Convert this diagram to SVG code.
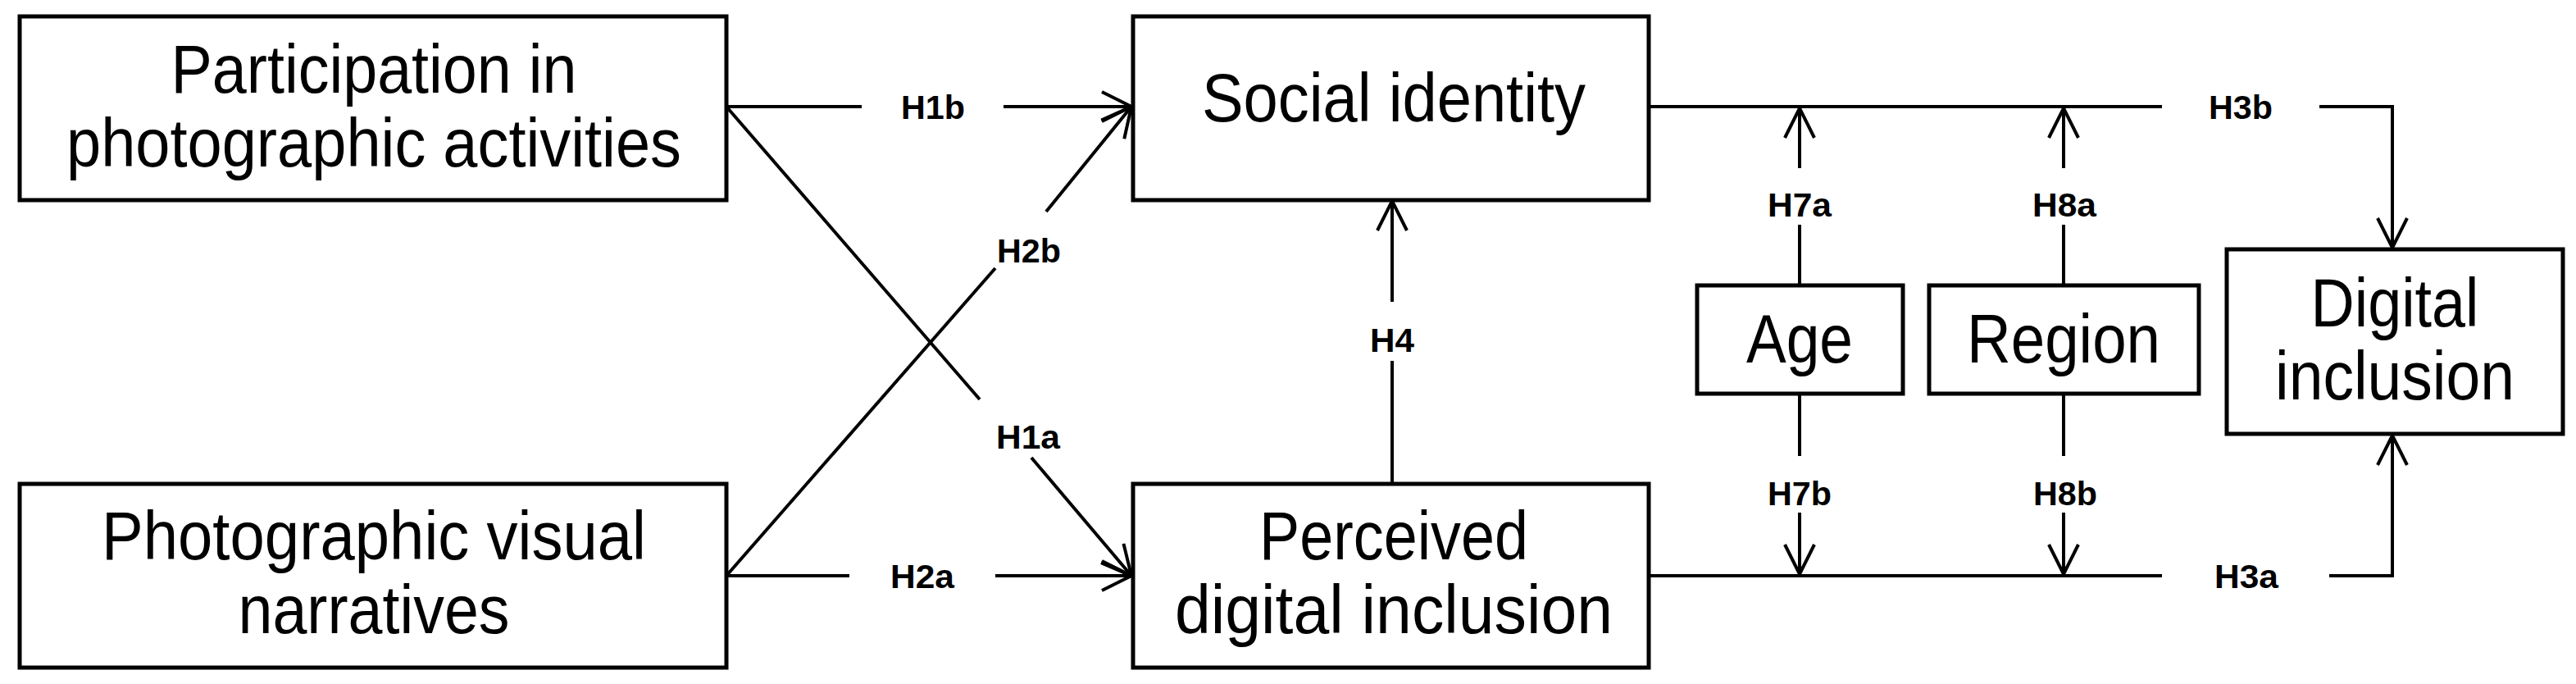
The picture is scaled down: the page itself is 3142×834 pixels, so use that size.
<svg xmlns="http://www.w3.org/2000/svg" width="3142" height="834" viewBox="0 0 3142 834">
<style>
.box{fill:#fff;stroke:#000;stroke-width:5}
.t{font-family:"Liberation Sans",Arial,sans-serif;font-size:84px;text-anchor:middle;fill:#000}
.l{font-family:"Liberation Sans",Arial,sans-serif;font-size:40px;font-weight:bold;text-anchor:middle;fill:#000}
.c{fill:none;stroke:#000;stroke-width:4}
</style>
<defs>
<marker id="a" markerUnits="userSpaceOnUse" markerWidth="44" markerHeight="44" refX="36" refY="18" orient="auto" viewBox="-4 -4 44 44">
<path d="M0,0 L36,18 L0,36" fill="none" stroke="#000" stroke-width="4"/>
</marker>
</defs>
<g id="connectors">
<path class="c" d="M886,130 H1051 M1224,130 H1380" marker-end="url(#a)"/>
<path class="c" d="M886,702 H1036 M1214,702 H1380" marker-end="url(#a)"/>
<path class="c" d="M886,130 L1195,487 M1258,558 L1380,702" marker-end="url(#a)"/>
<path class="c" d="M886,702 L1214,327 M1276,258 L1380,130" marker-end="url(#a)"/>
<path class="c" d="M1698,590 V440 M1698,368 V245" marker-end="url(#a)"/>
<path class="c" d="M2011,130 H2637 M2829,130 H2918 V302" marker-end="url(#a)"/>
<path class="c" d="M2011,702 H2637 M2841,702 H2918 V531" marker-end="url(#a)"/>
<path class="c" d="M2195,348 V274 M2195,205 V132" marker-end="url(#a)"/>
<path class="c" d="M2517,348 V274 M2517,205 V132" marker-end="url(#a)"/>
<path class="c" d="M2195,480 V556 M2195,625 V700" marker-end="url(#a)"/>
<path class="c" d="M2517,480 V556 M2517,625 V700" marker-end="url(#a)"/>
<text class="l" x="1138" y="145" textLength="78" lengthAdjust="spacingAndGlyphs">H1b</text>
<text class="l" x="1125" y="717" textLength="78" lengthAdjust="spacingAndGlyphs">H2a</text>
<text class="l" x="1254" y="547" textLength="78" lengthAdjust="spacingAndGlyphs">H1a</text>
<text class="l" x="1255" y="320" textLength="78" lengthAdjust="spacingAndGlyphs">H2b</text>
<text class="l" x="1698" y="429" textLength="54" lengthAdjust="spacingAndGlyphs">H4</text>
<text class="l" x="2733" y="145" textLength="78" lengthAdjust="spacingAndGlyphs">H3b</text>
<text class="l" x="2740" y="717" textLength="78" lengthAdjust="spacingAndGlyphs">H3a</text>
<text class="l" x="2195" y="264" textLength="78" lengthAdjust="spacingAndGlyphs">H7a</text>
<text class="l" x="2518" y="264" textLength="78" lengthAdjust="spacingAndGlyphs">H8a</text>
<text class="l" x="2195" y="616" textLength="78" lengthAdjust="spacingAndGlyphs">H7b</text>
<text class="l" x="2519" y="616" textLength="78" lengthAdjust="spacingAndGlyphs">H8b</text>
</g>
<g id="n1"><rect class="box" x="24" y="20" width="862" height="224"/>
<text class="t" x="456" y="113" textLength="495" lengthAdjust="spacingAndGlyphs">Participation in</text>
<text class="t" x="456" y="203" textLength="750" lengthAdjust="spacingAndGlyphs">photographic activities</text></g>
<g id="n2"><rect class="box" x="24" y="590" width="862" height="224"/>
<text class="t" x="456" y="682" textLength="664" lengthAdjust="spacingAndGlyphs">Photographic visual</text>
<text class="t" x="456" y="772" textLength="331" lengthAdjust="spacingAndGlyphs">narratives</text></g>
<g id="n3"><rect class="box" x="1382" y="20" width="629" height="224"/>
<text class="t" x="1700" y="148" textLength="468" lengthAdjust="spacingAndGlyphs">Social identity</text></g>
<g id="n4"><rect class="box" x="1382" y="590" width="629" height="224"/>
<text class="t" x="1700" y="682" textLength="328" lengthAdjust="spacingAndGlyphs">Perceived</text>
<text class="t" x="1700" y="772" textLength="534" lengthAdjust="spacingAndGlyphs">digital inclusion</text></g>
<g id="n5"><rect class="box" x="2070" y="348" width="251" height="132"/>
<text class="t" x="2195" y="442" textLength="130" lengthAdjust="spacingAndGlyphs">Age</text></g>
<g id="n6"><rect class="box" x="2353" y="348" width="329" height="132"/>
<text class="t" x="2517" y="442" textLength="236" lengthAdjust="spacingAndGlyphs">Region</text></g>
<g id="n7"><rect class="box" x="2716" y="304" width="410" height="225"/>
<text class="t" x="2921" y="398" textLength="205" lengthAdjust="spacingAndGlyphs">Digital</text>
<text class="t" x="2921" y="487" textLength="292" lengthAdjust="spacingAndGlyphs">inclusion</text></g>
</svg>
